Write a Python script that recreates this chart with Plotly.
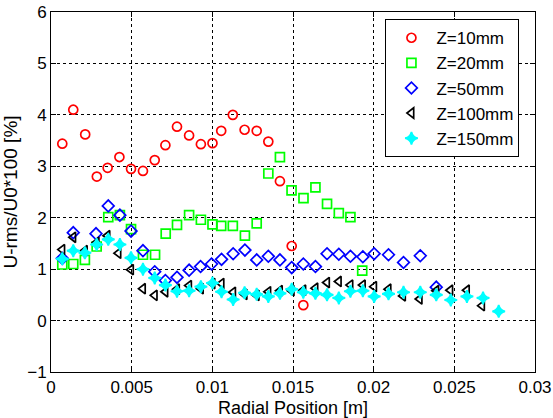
import plotly.graph_objects as go

# Z=10mm
x10 = [0.0007, 0.00138, 0.00212, 0.00284, 0.00351, 0.00424, 0.00496, 0.0057, 0.00643, 0.00709, 0.00781,
       0.00856, 0.00929, 0.01001, 0.01055, 0.01127, 0.012, 0.01275, 0.01347, 0.01419, 0.01492, 0.01564]
y10 = [3.44, 4.10, 3.62, 2.80, 2.97, 3.18, 2.95, 2.91, 3.12, 3.41, 3.77,
       3.60, 3.43, 3.45, 3.69, 4.00, 3.71, 3.69, 3.48, 2.71, 1.45, 0.30]

# Z=20mm
x20 = [0.0007, 0.00138, 0.0021, 0.00283, 0.00355, 0.00427, 0.00496, 0.0057, 0.00645, 0.00711, 0.00781,
       0.00856, 0.00929, 0.01001, 0.01055, 0.01127, 0.01202, 0.01275, 0.01347, 0.01419, 0.01491, 0.01565,
       0.01639, 0.01711, 0.01784, 0.01856, 0.01929]
y20 = [1.09, 1.10, 1.18, 1.44, 2.01, 2.05, 1.78, 1.28, 1.28, 1.69, 1.86,
       2.05, 1.96, 1.87, 1.84, 1.84, 1.65, 1.89, 2.86, 3.18, 2.53, 2.38,
       2.59, 2.27, 2.09, 2.01, 0.97]

# Z=50mm
x50 = [0.0007, 0.00138, 0.00279, 0.00355, 0.00427, 0.00496, 0.0057, 0.00643, 0.00709, 0.00781, 0.00856,
       0.00927, 0.00995, 0.01057, 0.01129, 0.01202, 0.01275, 0.01347, 0.01419, 0.01492, 0.01564, 0.01639,
       0.01711, 0.01784, 0.01856, 0.01933, 0.02003, 0.02092, 0.02185, 0.02289, 0.02388]
y50 = [1.21, 1.71, 1.69, 2.23, 2.05, 1.74, 1.36, 0.95, 0.78, 0.84, 0.98,
       1.05, 1.10, 1.19, 1.30, 1.37, 1.18, 1.25, 1.18, 1.03, 1.10, 1.05,
       1.30, 1.29, 1.25, 1.24, 1.30, 1.28, 1.13, 1.26, 0.65]

# Z=100mm
x100 = [0.0007, 0.00138, 0.0021, 0.00283, 0.0035, 0.00418, 0.00496, 0.0057, 0.00643, 0.00709, 0.00781,
        0.00856, 0.00929, 0.01001, 0.01057, 0.01129, 0.012, 0.01275, 0.01347, 0.01419, 0.01492, 0.01564,
        0.01639, 0.01711, 0.01784, 0.01856, 0.01933, 0.02003, 0.02092, 0.02182, 0.02285, 0.02388, 0.02475,
        0.02578, 0.02672]
y100 = [1.38, 1.62, 1.36, 1.52, 1.65, 1.31, 0.99, 0.62, 0.49, 0.56, 0.61,
        0.68, 0.62, 0.72, 0.72, 0.55, 0.51, 0.49, 0.56, 0.58, 0.58, 0.59,
        0.63, 0.74, 0.76, 0.69, 0.69, 0.66, 0.61, 0.48, 0.42, 0.58, 0.59,
        0.59, 0.29]

# Z=150mm
x150 = [0.0007, 0.00138, 0.0021, 0.00283, 0.00355, 0.00427, 0.00496, 0.0057, 0.00643, 0.00709, 0.00781,
        0.00856, 0.00929, 0.01001, 0.01057, 0.01129, 0.012, 0.01275, 0.01347, 0.01419, 0.01492, 0.01564,
        0.01639, 0.01711, 0.01784, 0.01856, 0.01933, 0.02003, 0.02092, 0.02185, 0.02289, 0.02388, 0.02478,
        0.02578, 0.02678, 0.02775]
y150 = [1.20, 1.36, 1.32, 1.48, 1.58, 1.48, 1.22, 1.00, 0.83, 0.69, 0.57,
        0.58, 0.66, 0.73, 0.56, 0.41, 0.54, 0.51, 0.47, 0.53, 0.61, 0.55,
        0.53, 0.50, 0.44, 0.57, 0.58, 0.47, 0.52, 0.55, 0.55, 0.50, 0.40,
        0.47, 0.44, 0.18]

x_ticks = [0, 0.005, 0.01, 0.015, 0.02, 0.025, 0.03]
x_tick_text = ["0", "0.005", "0.01", "0.015", "0.02", "0.025", "0.03"]
y_ticks = [-1, 0, 1, 2, 3, 4, 5, 6]

series = [
    ("Z=10mm", x10, y10, "circle-open", "#ff0000", 9),
    ("Z=20mm", x20, y20, "square-open", "#00ff00", 9),
    ("Z=50mm", x50, y50, "diamond-open", "#0000ff", 9),
    ("Z=100mm", x100, y100, "triangle-left-open", "#000000", 9),
    ("Z=150mm", x150, y150, "star-diamond", "#00ffff", 9),
]

FONT = "Liberation Sans, Arial, sans-serif"

fig = go.Figure()
for name, xs, ys, sym, col, sz in series:
    fig.add_trace(go.Scatter(
        x=xs, y=ys, mode="markers", name=name,
        marker=dict(symbol=sym, color=col, size=sz,
                    line=dict(color=col, width=1.7)),
    ))

axis_common = dict(
    showline=True, linecolor="black", linewidth=1, mirror="ticks",
    ticks="inside", ticklen=5, tickcolor="black",
    showgrid=True, gridcolor="black", griddash="dot", gridwidth=1,
    zeroline=False, tickfont=dict(size=17, color="black", family=FONT),
    automargin=False, ticklabeloverflow="allow",
)

fig.update_layout(
    width=553, height=418,
    margin=dict(l=51, r=18, t=12, b=46),
    paper_bgcolor="white", plot_bgcolor="white",
    font=dict(family=FONT, size=17, color="black"),
    showlegend=True,
    legend=dict(x=0.691, y=0.98, xanchor="left", yanchor="top",
                bgcolor="white", bordercolor="black", borderwidth=1,
                font=dict(size=17, family=FONT), itemwidth=40, tracegroupgap=0),
    xaxis=dict(range=[0, 0.03], tickvals=x_ticks, ticktext=x_tick_text,
               title=dict(text="Radial Position [m]", standoff=6, font=dict(size=18)),
               **axis_common),
    yaxis=dict(range=[-1, 6], tickvals=y_ticks,
               title=dict(text="U-rms/U0*100 [%]", standoff=6, font=dict(size=19)),
               **axis_common),
)

# remove the browser's default 8px body margin so the 553x418 figure fills the window
fig.write_html("out.html", config={"displayModeBar": False},
               post_script="document.body.style.margin='0';")
